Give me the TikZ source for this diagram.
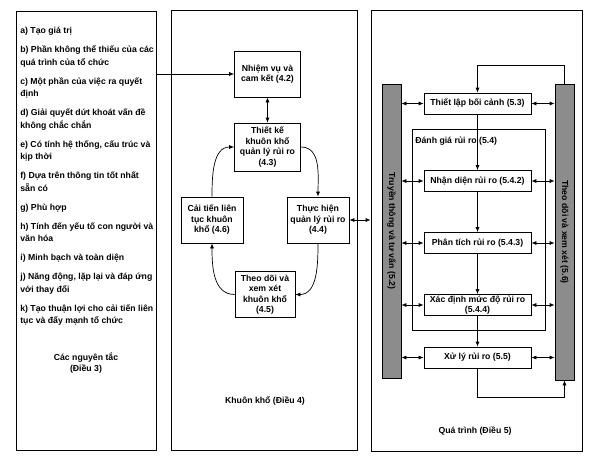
\documentclass[tikz,border=0pt]{standalone}
\usepackage{fontspec}
\setmainfont{Liberation Sans}
\usetikzlibrary{arrows.meta}

\begin{document}
\begin{tikzpicture} [x=1pt, y=1pt, >={Latex[length=5pt,width=4pt]}, line width=0.7pt,
  every node/.style={font=\fontsize{8.7}{10.5}\selectfont\bfseries},
  panel/.style={draw, inner sep=0pt},
  fbox/.style={draw, align=center, inner sep=1pt, minimum width=66pt, minimum height=46pt},
  pbox/.style={draw, align=center, inner sep=0.5pt, minimum width=107pt, minimum height=21pt},
  bar/.style={draw, fill=black!45, minimum width=19pt, inner sep=0pt}]
 \useasboundingbox (0,0) rectangle (589,-459);
 \node[panel, minimum width=140pt, minimum height=439pt] (princ) at (86,-230.5) {};
 \node[panel, minimum width=186pt, minimum height=440pt] (frame) at (264,-230) {};
 \node[panel, minimum width=211pt, minimum height=441pt] (proc) at (476.5,-230.5) {};

 \node[anchor=north west, align=left, inner sep=0pt, font=\fontsize{8.7}{12.5}\selectfont\bfseries] (list) at (20,-27)
  {a) Tạo giá trị\\[6.5pt]
   b) Phần không thể thiếu của các\\ quá trình của tổ chức\\[6.5pt]
   c) Một phần của việc ra quyết\\ định\\[6.5pt]
   d) Giải quyết dứt khoát vấn đề\\ không chắc chắn\\[6.5pt]
   e) Có tính hệ thống, cấu trúc và\\ kịp thời\\[6.5pt]
   f) Dựa trên thông tin tốt nhất\\ sẵn có\\[6.5pt]
   g) Phù hợp\\[6.5pt]
   h) Tính đến yếu tố con người và\\ văn hóa\\[6.5pt]
   i) Minh bạch và toàn diện\\[6.5pt]
   j) Năng động, lặp lại và đáp ứng\\ với thay đổi\\[6.5pt]
   k) Tạo thuận lợi cho cải tiến liên\\ tục và đẩy mạnh tổ chức};
 \node[align=center] (princlabel) at (86,-363) {Các nguyên tắc\\(Điều 3)};

 \node[fbox] (mission) at (267.5,-74) {Nhiệm vụ và\\cam kết (4.2)};
 \node[fbox, minimum height=48pt] (design) at (267.5,-147) {Thiết kế\\khuôn khổ\\quản lý rủi ro\\(4.3)};
 \node[fbox, minimum width=62pt] (improve) at (212,-220) {Cải tiến liên\\tục khuôn\\khổ (4.6)};
 \node[fbox, minimum width=62pt] (implement) at (318,-220) {Thực hiện\\quản lý rủi ro\\(4.4)};
 \node[fbox, minimum width=60pt] (monitor) at (265,-294.5) {Theo dõi và\\xem xét\\khuôn khổ\\(4.5)};
 \node (framelabel) at (265,-401) {Khuôn khổ (Điều 4)};

 \node[bar, minimum height=294pt] (comm) at (391.5,-231) {};
 \node[rotate=-90] (commtext) at (comm) {Truyền thông và tư vấn (5.2)};
 \node[bar, minimum height=296pt] (review) at (564.5,-232) {};
 \node[rotate=-90] (reviewtext) at (review) {Theo dõi và xem xét (5.6)};
 \node[panel, minimum width=133pt, minimum height=201pt] (assess) at (478.5,-229.5) {};
 \node[anchor=north west, inner sep=0pt] (assesstext) at (415,-137) {Đánh giá rủi ro (5.4)};
 \node[pbox] (context) at (477.5,-103.5) {Thiết lập bối cảnh (5.3)};
 \node[pbox] (identify) at (477.5,-181) {Nhận diện rủi ro (5.4.2)};
 \node[pbox] (analyse) at (477.5,-243) {Phân tích rủi ro (5.4.3)};
 \node[pbox] (evaluate) at (477.5,-305) {Xác định mức độ rủi ro\\(5.4.4)};
 \node[pbox] (treat) at (477.5,-357.5) {Xử lý rủi ro (5.5)};
 \node (proclabel) at (475,-431) {Quá trình (Điều 5)};

 \draw[->] (mission.west -| princ.east) -- (mission.west);
 \draw[<->] (mission) -- (design);
 \draw[->] (improve.north) to[out=90,in=180] (design.west);
 \draw[->] (design.east) to[out=0,in=90] (implement.north);
 \draw[->] (implement.south) to[out=-90,in=0] (monitor.east);
 \draw[->] (monitor.west) to[out=180,in=-90] (improve.south);
 \draw[<->] (implement.east) -- (implement.east -| proc.west);

 \draw[->] (review.north) -- ++(0,18) -| (context.north);
 \foreach \s/\t in {context/identify, identify/analyse, analyse/evaluate, evaluate/treat}
  \draw[->] (\s) -- (\t);
 \draw[->] (treat.south) -- ++(0,-29) -| (review.south);
 \foreach \s in {context, identify, analyse, evaluate, treat} {
  \draw[<->] (comm.east |- \s.west) -- (\s.west);
  \draw[<->] (\s.east) -- (review.west |- \s.east);
 }
\end{tikzpicture}
\end{document}
